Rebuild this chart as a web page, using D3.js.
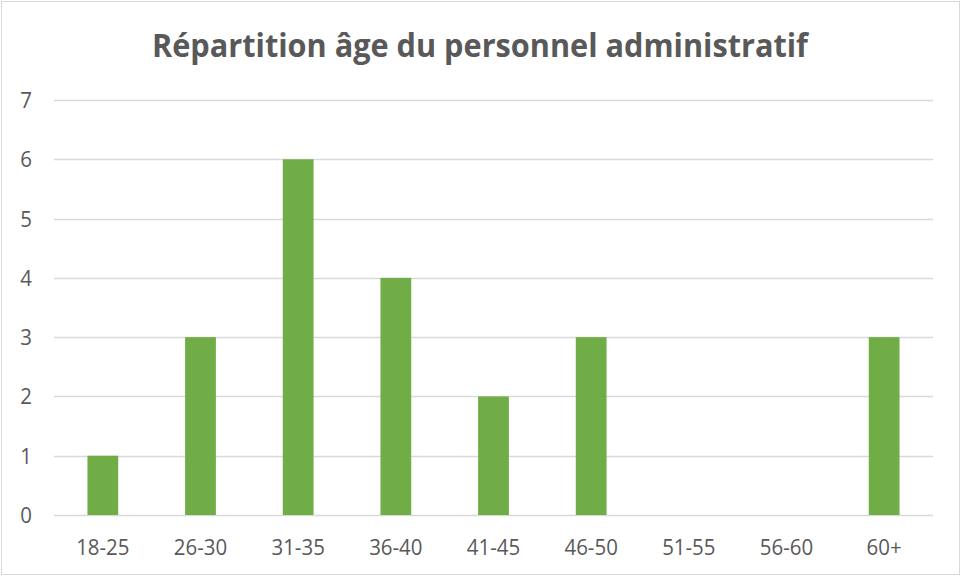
<!DOCTYPE html>
<html>
<head>
<meta charset="utf-8">
<script src="https://cdn.jsdelivr.net/npm/d3@7/dist/d3.min.js"></script>
<style>
  html, body { margin: 0; padding: 0; background: #fff; }
  svg { display: block; }
</style>
</head>
<body>
<script>
const title = "Répartition âge du personnel administratif";
const categories = ["18-25", "26-30", "31-35", "36-40", "41-45", "46-50", "51-55", "56-60", "60+"];
const values = [1, 3, 6, 4, 2, 3, 0, 0, 3];
const yTicks = [0, 1, 2, 3, 4, 5, 6, 7];

const W = 961, H = 576;
const plot = { left: 54, right: 933, top: 100, bottom: 515 };
const textColor = "#595959";
const gridColor = "#d9d9d9";
const barColor = "#70ad47";
const font = "'Open Sans', 'Noto Sans', sans-serif";

const svg = d3.select("body").append("svg").attr("width", W).attr("height", H);

svg.append("rect")
  .attr("x", 1.5).attr("y", 1.5).attr("width", W - 3).attr("height", H - 3)
  .attr("fill", "#fff").attr("stroke", gridColor).attr("stroke-width", 1);

const x = d3.scaleBand().domain(categories).range([plot.left, plot.right]).padding(0);
const y = d3.scaleLinear().domain([0, 7]).range([plot.bottom, plot.top]);

// gridlines
svg.append("g").selectAll("line").data(yTicks).join("line")
  .attr("x1", plot.left).attr("x2", plot.right)
  .attr("y1", d => Math.round(y(d)) + 0.5).attr("y2", d => Math.round(y(d)) + 0.5)
  .attr("stroke", gridColor).attr("stroke-width", 1.3);

// y labels
svg.append("g").selectAll("text").data(yTicks).join("text")
  .attr("transform", d => `translate(32,${y(d)}) scale(0.93,1)`)
  .attr("dy", "0.36em")
  .attr("text-anchor", "end")
  .attr("font-family", font).attr("font-size", 22)
  .attr("fill", textColor)
  .text(d => d);

// bars
const barFrac = 0.315;
svg.append("g").selectAll("rect").data(values).join("rect")
  .attr("x", (d, i) => x(categories[i]) + x.bandwidth() * (1 - barFrac) / 2)
  .attr("width", x.bandwidth() * barFrac)
  .attr("y", d => y(d))
  .attr("height", d => y(0) - y(d))
  .attr("fill", barColor);

// x labels
svg.append("g").selectAll("text").data(categories).join("text")
  .attr("transform", d => `translate(${x(d) + x.bandwidth() / 2},555) scale(0.93,1)`)
  .attr("text-anchor", "middle")
  .attr("font-family", font).attr("font-size", 22)
  .attr("fill", textColor)
  .text(d => d);

// title
svg.append("text")
  .attr("x", 480).attr("y", 57)
  .attr("text-anchor", "middle")
  .attr("font-family", font).attr("font-size", 33).attr("font-weight", "bold")
  .attr("fill", textColor)
  .attr("textLength", 656).attr("lengthAdjust", "spacingAndGlyphs")
  .text(title);
</script>
</body>
</html>
